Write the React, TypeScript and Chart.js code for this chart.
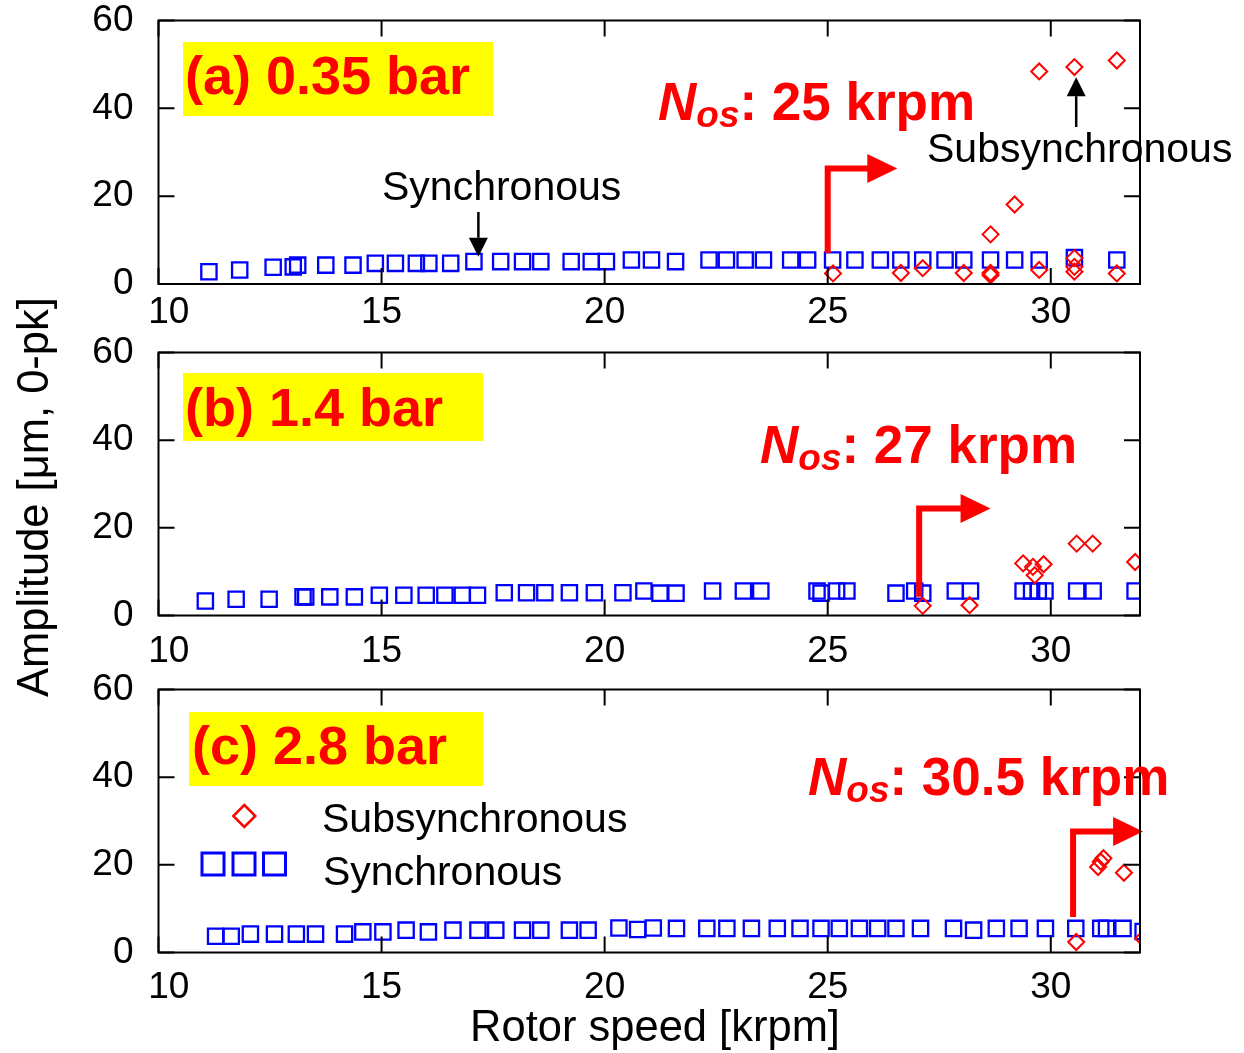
import React, { useEffect, useRef } from 'react';
import { Chart, registerables } from 'chart.js';

Chart.register(...registerables);

const FONT = "'Liberation Sans', Arial, Helvetica, sans-serif";
const RED = '#ff0000';
const BLUE = '#0000ff';
const YELLOW = '#ffff00';

const X_TICKS = [10, 15, 20, 25, 30];
const Y_TICKS = [0, 20, 40, 60];
const X_MIN = 10;
const X_MAX = 32;
const Y_MIN = 0;
const Y_MAX = 60;

// ---- Panel (a) 0.35 bar ----
const speedSyncA = [11.13, 11.82, 12.57, 13.02, 13.12, 13.75, 14.36, 14.86, 15.31, 15.78, 16.06, 16.55, 17.07, 17.67, 18.16, 18.57, 19.25, 19.7, 20.04, 20.6, 21.05, 21.59, 22.34, 22.73, 23.15, 23.56, 24.17, 24.55, 25.11, 25.61, 26.18, 26.64, 27.13, 27.63, 28.05, 28.65, 29.19, 29.74, 30.53, 31.48];
const ampSyncA = [2.8, 3.2, 3.8, 3.9, 4.3, 4.3, 4.3, 4.7, 4.7, 4.7, 4.7, 4.7, 5.1, 5.1, 5.1, 5.1, 5.1, 5.1, 5.1, 5.45, 5.45, 5.1, 5.45, 5.45, 5.45, 5.45, 5.45, 5.45, 5.45, 5.45, 5.45, 5.45, 5.45, 5.45, 5.45, 5.45, 5.45, 5.45, 6.0, 5.45];
const speedSubA = [25.12, 26.64, 27.13, 28.05, 28.65, 28.65, 28.65, 29.19, 29.74, 29.74, 30.53, 30.53, 30.53, 30.53, 31.48, 31.48];
const ampSubA = [2.4, 2.5, 3.6, 2.5, 2.0, 2.5, 11.3, 18.1, 3.2, 48.4, 49.4, 5.9, 3.9, 2.8, 50.9, 2.4];

// ---- Panel (b) 1.4 bar ----
const speedSyncB = [11.05, 11.74, 12.48, 13.24, 13.3, 13.84, 14.39, 14.95, 15.5, 16.0, 16.42, 16.81, 17.15, 17.75, 18.25, 18.66, 19.21, 19.77, 20.41, 20.88, 21.24, 21.6, 22.42, 23.11, 23.5, 24.76, 24.85, 25.2, 25.43, 26.53, 26.95, 27.13, 27.86, 28.2, 29.38, 29.57, 29.72, 29.87, 30.58, 30.95, 31.89];
const ampSyncB = [3.3, 3.7, 3.7, 4.25, 4.25, 4.25, 4.25, 4.6, 4.6, 4.6, 4.6, 4.6, 4.6, 5.2, 5.2, 5.2, 5.2, 5.2, 5.2, 5.6, 5.1, 5.1, 5.6, 5.6, 5.6, 5.6, 5.1, 5.6, 5.6, 5.1, 5.6, 5.1, 5.6, 5.6, 5.6, 5.6, 5.6, 5.6, 5.6, 5.6, 5.6];
const speedSubB = [27.13, 28.18, 29.38, 29.6, 29.64, 29.84, 30.58, 30.94, 31.89];
const ampSubB = [2.2, 2.35, 11.9, 11.1, 9.2, 11.7, 16.4, 16.4, 12.2];

// ---- Panel (c) 2.8 bar ----
const speedSyncC = [11.28, 11.63, 12.06, 12.6, 13.09, 13.52, 14.17, 14.58, 15.03, 15.55, 16.05, 16.6, 17.16, 17.56, 18.16, 18.57, 19.21, 19.63, 20.32, 20.74, 21.09, 21.61, 22.29, 22.74, 23.29, 23.87, 24.38, 24.85, 25.26, 25.71, 26.12, 26.53, 27.08, 27.82, 28.27, 28.78, 29.29, 29.88, 30.56, 31.12, 31.25, 31.62, 32.07];
const ampSyncC = [3.7, 3.7, 4.2, 4.2, 4.2, 4.2, 4.2, 4.7, 4.7, 5.1, 4.7, 5.1, 5.1, 5.1, 5.1, 5.1, 5.1, 5.1, 5.6, 5.25, 5.6, 5.5, 5.5, 5.5, 5.5, 5.5, 5.5, 5.5, 5.5, 5.5, 5.5, 5.5, 5.5, 5.5, 5.1, 5.5, 5.5, 5.5, 5.5, 5.5, 5.5, 5.5, 4.8];
const speedSubC = [30.57, 31.06, 31.12, 31.18, 31.64, 32.07];
const ampSubC = [2.4, 19.5, 20.7, 21.5, 18.2, 3.2];

const PANEL_LABELS = ['(a) 0.35 bar', '(b) 1.4 bar', '(c) 2.8 bar'];
const NOS_VALUES = [25, 27.05, 30.5];
const NOS_TEXT = ['25', '27', '30.5'];
const SERIES_NAMES = ['Subsynchronous', 'Synchronous'];

const DATA = [
  { sync: [speedSyncA, ampSyncA], sub: [speedSubA, ampSubA] },
  { sync: [speedSyncB, ampSyncB], sub: [speedSubB, ampSubB] },
  { sync: [speedSyncC, ampSyncC], sub: [speedSubC, ampSubC] },
];

// Layout (page pixel coordinates / data-unit anchors for arrows)
const LAYOUT = [
  {
    top: 0, height: 334, padTop: 20.5, plotH: 263.5, tickPad: 7,
    box: [183, 42, 493, 116], text: [185, 94], nos: [658, 120],
    arrow: { y0: 7.05, y1: 26.3, tip: 26.56 },
  },
  {
    top: 332, height: 334, padTop: 20.5, plotH: 263, tickPad: 14,
    box: [183, 373, 483, 441], text: [185, 426], nos: [760, 463],
    arrow: { y0: 4.25, y1: 24.4, tip: 28.65 },
  },
  {
    top: 669, height: 384, padTop: 20.5, plotH: 263, tickPad: 13,
    box: [189, 712, 483, 786], text: [192, 764], nos: [808, 795],
    arrow: { y0: 8.1, y1: 27.6, tip: 32.07 },
  },
];

const BLACK_NOTES = [
  { text: 'Synchronous', pos: [382, 200], x: 17.17, from: 16.4, to: 6.2 },
  { text: 'Subsynchronous', pos: [927, 162], x: 30.57, from: 35.75, to: 47.1 },
];

const PLOT_LEFT = 158.5;
const PLOT_RIGHT = 1140;
const PAGE_W = 1244;
const TICK_LEN = 16;

function drawDiamond(ctx: CanvasRenderingContext2D, x: number, y: number, r: number) {
  ctx.beginPath();
  ctx.moveTo(x, y - r);
  ctx.lineTo(x + r, y);
  ctx.lineTo(x, y + r);
  ctx.lineTo(x - r, y);
  ctx.closePath();
  ctx.stroke();
}

function Panel({ idx }: { idx: number }) {
  const ref = useRef<HTMLCanvasElement>(null);
  const L = LAYOUT[idx];

  useEffect(() => {
    const canvas = ref.current;
    if (!canvas) return;
    const d = DATA[idx];
    const off = L.top;

    const plugin = {
      id: 'annot' + idx,
      afterDatasetsDraw(chart: any) {
        const ctx: CanvasRenderingContext2D = chart.ctx;
        const xs = chart.scales.x;
        const ys = chart.scales.y;
        ctx.save();
        // red onset arrow
        const a = L.arrow;
        const px = xs.getPixelForValue(NOS_VALUES[idx]);
        const py0 = ys.getPixelForValue(a.y0);
        const py1 = ys.getPixelForValue(a.y1);
        const tip = xs.getPixelForValue(a.tip);
        const headL = 30;
        const headW = 14.5;
        ctx.strokeStyle = RED;
        ctx.fillStyle = RED;
        ctx.lineWidth = 6;
        ctx.lineJoin = 'miter';
        ctx.lineCap = 'butt';
        ctx.beginPath();
        ctx.moveTo(px, py0);
        ctx.lineTo(px, py1);
        ctx.lineTo(tip - headL + 2, py1);
        ctx.stroke();
        ctx.beginPath();
        ctx.moveTo(tip, py1);
        ctx.lineTo(tip - headL, py1 - headW);
        ctx.lineTo(tip - headL, py1 + headW);
        ctx.closePath();
        ctx.fill();
        ctx.restore();
      },
      afterDraw(chart: any) {
        const ctx: CanvasRenderingContext2D = chart.ctx;
        const xs = chart.scales.x;
        const ys = chart.scales.y;
        const { left, right, top, bottom } = chart.chartArea;
        ctx.save();
        // frame + inward ticks on all sides
        ctx.strokeStyle = '#000';
        ctx.lineWidth = 2;
        ctx.strokeRect(left, top, right - left, bottom - top);
        ctx.beginPath();
        X_TICKS.forEach((v) => {
          const p = xs.getPixelForValue(v);
          ctx.moveTo(p, bottom);
          ctx.lineTo(p, bottom - TICK_LEN);
          ctx.moveTo(p, top);
          ctx.lineTo(p, top + TICK_LEN);
        });
        Y_TICKS.forEach((v) => {
          const p = ys.getPixelForValue(v);
          ctx.moveTo(left, p);
          ctx.lineTo(left + TICK_LEN, p);
          ctx.moveTo(right, p);
          ctx.lineTo(right - TICK_LEN, p);
        });
        ctx.stroke();

        // yellow label box
        const [bx0, by0, bx1, by1] = L.box;
        ctx.fillStyle = YELLOW;
        ctx.fillRect(bx0, by0 - off, bx1 - bx0, by1 - by0);
        ctx.fillStyle = RED;
        ctx.textAlign = 'left';
        ctx.textBaseline = 'alphabetic';
        ctx.font = `bold 54px ${FONT}`;
        ctx.fillText(PANEL_LABELS[idx], L.text[0], L.text[1] - off);

        // N_os label
        let nx = L.nos[0];
        const ny = L.nos[1] - off;
        ctx.font = `italic bold 53px ${FONT}`;
        ctx.fillText('N', nx, ny);
        nx += ctx.measureText('N').width;
        ctx.font = `italic bold 37px ${FONT}`;
        ctx.fillText('os', nx, ny + 7);
        nx += ctx.measureText('os').width;
        ctx.font = `bold 53px ${FONT}`;
        ctx.fillText(`: ${NOS_TEXT[idx]} krpm`, nx, ny);

        // black notes (panel a)
        if (idx === 0) {
          ctx.fillStyle = '#000';
          ctx.strokeStyle = '#000';
          ctx.font = `41px ${FONT}`;
          BLACK_NOTES.forEach((n) => {
            ctx.fillText(n.text, n.pos[0], n.pos[1] - off);
            const ax = xs.getPixelForValue(n.x);
            const f = ys.getPixelForValue(n.from);
            const t = ys.getPixelForValue(n.to);
            const dir = t > f ? 1 : -1;
            const hl = 19;
            ctx.lineWidth = 2.5;
            ctx.beginPath();
            ctx.moveTo(ax, f);
            ctx.lineTo(ax, t - dir * hl);
            ctx.stroke();
            ctx.beginPath();
            ctx.moveTo(ax, t);
            ctx.lineTo(ax - 9.5, t - dir * hl);
            ctx.lineTo(ax + 9.5, t - dir * hl);
            ctx.closePath();
            ctx.fill();
          });
        }

        // legend + x title (panel c)
        if (idx === 2) {
          ctx.strokeStyle = RED;
          ctx.lineWidth = 2.5;
          drawDiamond(ctx, 244.3, 816 - off, 11);
          ctx.strokeStyle = BLUE;
          ctx.lineWidth = 3;
          [213, 244, 274.5].forEach((cx) => {
            ctx.strokeRect(cx - 11, 864 - off - 11, 22, 22);
          });
          ctx.fillStyle = '#000';
          ctx.font = `41px ${FONT}`;
          ctx.fillText(SERIES_NAMES[0], 322, 832 - off);
          ctx.fillText(SERIES_NAMES[1], 323, 885 - off);

          ctx.font = `43.5px ${FONT}`;
          ctx.textAlign = 'center';
          ctx.fillText('Rotor speed [krpm]', 655, 1041 - off);
        }
        ctx.restore();
      },
    };

    const toPts = (xsArr: number[], ysArr: number[]) => xsArr.map((x, i) => ({ x, y: ysArr[i] }));
    const axisH = L.height - L.padTop - L.plotH;

    const chart = new Chart(canvas, {
      type: 'scatter',
      data: {
        datasets: [
          {
            label: SERIES_NAMES[0],
            data: toPts(d.sub[0], d.sub[1]),
            pointStyle: 'rectRot',
            pointRadius: 8,
            pointBorderWidth: 2,
            pointBorderColor: RED,
            pointBackgroundColor: 'rgba(0,0,0,0)',
            borderColor: RED,
            backgroundColor: 'rgba(0,0,0,0)',
            showLine: false,
            clip: 0,
          } as any,
          {
            label: SERIES_NAMES[1],
            data: toPts(d.sync[0], d.sync[1]),
            pointStyle: 'rect',
            pointRadius: 10.8,
            pointBorderWidth: 2.3,
            pointBorderColor: BLUE,
            pointBackgroundColor: 'rgba(0,0,0,0)',
            borderColor: BLUE,
            backgroundColor: 'rgba(0,0,0,0)',
            showLine: false,
            clip: 0,
          } as any,
        ],
      },
      options: {
        responsive: false,
        animation: false,
        events: [],
        layout: { padding: { top: L.padTop, left: 0, right: PAGE_W - PLOT_RIGHT, bottom: 0 } },
        plugins: { legend: { display: false }, tooltip: { enabled: false }, title: { display: false } },
        scales: {
          x: {
            type: 'linear',
            min: X_MIN,
            max: X_MAX,
            grid: { display: false, drawTicks: false },
            border: { display: false },
            afterBuildTicks: (s: any) => {
              s.ticks = X_TICKS.map((v) => ({ value: v }));
            },
            afterFit: (s: any) => {
              s.height = axisH;
              s.paddingLeft = 0;
              s.paddingRight = 0;
              s.paddingTop = 0;
              s.paddingBottom = 0;
            },
            ticks: {
              color: '#000',
              font: { family: FONT, size: 37 },
              padding: L.tickPad,
              maxRotation: 0,
              autoSkip: false,
              callback: (v: any) => (Number(v) === X_MIN ? '  ' + v : String(v)),
            },
          },
          y: {
            type: 'linear',
            min: Y_MIN,
            max: Y_MAX,
            grid: { display: false, drawTicks: false },
            border: { display: false },
            afterBuildTicks: (s: any) => {
              s.ticks = Y_TICKS.map((v) => ({ value: v }));
            },
            afterFit: (s: any) => {
              s.width = PLOT_LEFT;
              s.paddingTop = 0;
              s.paddingBottom = 0;
              s.paddingLeft = 0;
              s.paddingRight = 0;
            },
            ticks: {
              color: '#000',
              font: { family: FONT, size: 37 },
              padding: 25,
              autoSkip: false,
            },
          },
        },
      } as any,
      plugins: [plugin],
    });
    return () => chart.destroy();
  }, [idx]);

  return (
    <canvas
      ref={ref}
      width={PAGE_W}
      height={L.height}
      style={{ position: 'absolute', left: 0, top: L.top, width: PAGE_W, height: L.height, display: 'block' }}
    />
  );
}

export default function App() {
  return (
    <div style={{ position: 'absolute', left: 0, top: 0, width: PAGE_W, height: 1053, background: '#fff', overflow: 'hidden' }}>
      <Panel idx={0} />
      <Panel idx={1} />
      <Panel idx={2} />
      <div
        style={{
          position: 'absolute',
          left: 33 - 260,
          top: 497 - 25,
          width: 520,
          height: 50,
          lineHeight: '50px',
          textAlign: 'center',
          fontFamily: FONT,
          fontSize: 43.5,
          color: '#000',
          whiteSpace: 'nowrap',
          transform: 'rotate(-90deg)',
        }}
      >
        Amplitude [μm, 0-pk]
      </div>
    </div>
  );
}
